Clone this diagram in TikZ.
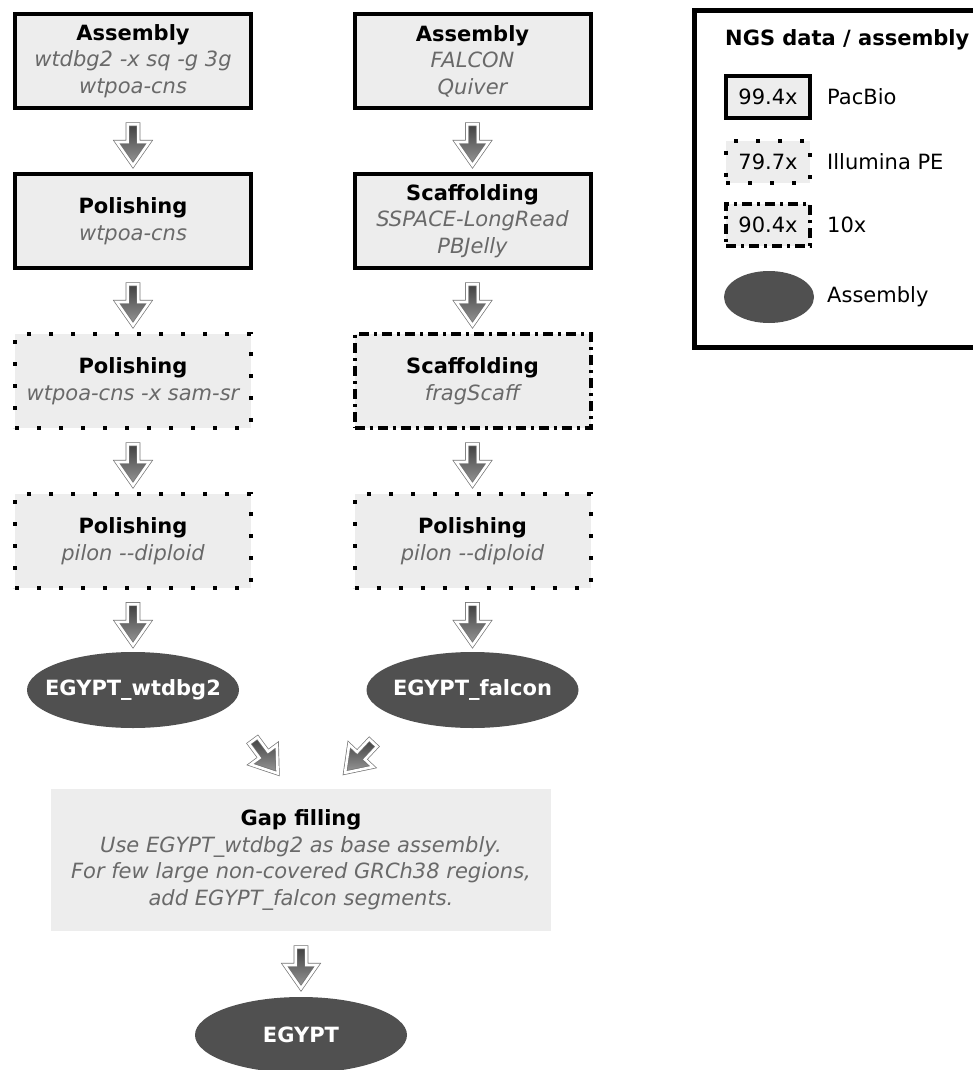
\documentclass[tikz,border=0pt]{standalone}
\usepackage{fontspec}
\setmainfont{DejaVu Sans}
\usepackage{tikz}
\usetikzlibrary{shapes.geometric, shapes.arrows}
\usepackage{xcolor}
\definecolor{boxgray}{RGB}{237, 237, 237}
\definecolor{toolgray}{RGB}{105, 105, 105}
\definecolor{asmgray}{RGB}{80, 80, 80}
\newcommand{\boxfont}{\fontsize{21}{26.5}\selectfont}
\newcommand{\tool}[1]{{\color{toolgray}\itshape #1}}
\newcommand{\asmname}[1]{\makebox[0pt]{#1}}

\begin{document}
\begin{tikzpicture}[x=1pt, y=-1pt,
  every node/.style={font=\boxfont},
  pacbio/.style={draw, line width=4pt, fill=boxgray, align=center, minimum width=236pt, minimum height=94pt},
  illumina/.style={pacbio, dash pattern=on 4pt off 18pt},
  tenx/.style={pacbio, dash pattern=on 10pt off 5pt on 3pt off 5pt},
  asm/.style={ellipse, fill=asmgray, text=white, font=\boxfont\bfseries, minimum width=212pt, minimum height=76pt, inner sep=0pt},
  flow/.style={single arrow, draw=black!55, line width=0.7pt, double=white, double distance=2.6pt, top color=black!75, bottom color=black!40, inner xsep=0pt, inner ysep=5pt, minimum height=41pt, single arrow head extend=11pt, single arrow tip angle=70, sloped, allow upside down},
  legtext/.style={anchor=west, inner sep=0pt}]

  \useasboundingbox (0,0) rectangle (972,1070);

  % wtdbg2 branch
  \node[pacbio] (asmW) at (133,61) {\textbf{Assembly}\\\tool{wtdbg2 -x sq -g 3g}\\\tool{wtpoa-cns}};
  \node[pacbio] (polW1) at (133,221) {\textbf{Polishing}\\\tool{wtpoa-cns}};
  \node[illumina] (polW2) at (133,381) {\textbf{Polishing}\\\tool{wtpoa-cns -x sam-sr}};
  \node[illumina] (polW3) at (133,541) {\textbf{Polishing}\\\tool{pilon -\kern0pt-diploid}};
  \node[asm] (wtdbg) at (133,690) {\asmname{EGYPT\_wtdbg2}};

  % FALCON branch
  \node[pacbio] (asmF) at (472.5,61) {\textbf{Assembly}\\\tool{FALCON}\\\tool{Quiver}};
  \node[pacbio] (scafF1) at (472.5,221) {\textbf{Scaffolding}\\\tool{SSPACE-LongRead}\\\tool{PBJelly}};
  \node[tenx] (scafF2) at (472.5,381) {\textbf{Scaffolding}\\\tool{fragScaff}};
  \node[illumina] (polF) at (472.5,541) {\textbf{Polishing}\\\tool{pilon -\kern0pt-diploid}};
  \node[asm] (falcon) at (472.5,690) {\asmname{EGYPT\_falcon}};

  % Step arrows
  \path (asmW) -- (polW1) node[flow, midway] (aW1) {};
  \path (polW1) -- (polW2) node[flow, midway] (aW2) {};
  \path (polW2) -- (polW3) node[flow, midway] (aW3) {};
  \path (polW3) -- (wtdbg) node[flow, midway] (aW4) {};
  \path (asmF) -- (scafF1) node[flow, midway] (aF1) {};
  \path (scafF1) -- (scafF2) node[flow, midway] (aF2) {};
  \path (scafF2) -- (polF) node[flow, midway] (aF3) {};
  \path (polF) -- (falcon) node[flow, midway] (aF4) {};

  % Gap filling
  \node[fill=boxgray, minimum width=500pt, minimum height=142pt, align=center] (gap) at (301,860)
    {\textbf{Gap filling}\\\tool{Use EGYPT\_wtdbg2 as base assembly.}\\\tool{For few large non-covered GRCh38 regions,}\\\tool{add EGYPT\_falcon segments.}};
  \node[asm] (egypt) at (301,1035) {\asmname{EGYPT}};
  \coordinate (mergeW) at (298,801);
  \coordinate (mergeF) at (326,793);
  \path (wtdbg.-10) -- (mergeW) node[flow, midway] (aM1) {};
  \path (falcon.south west) -- (mergeF) node[flow, midway] (aM2) {};
  \path (gap) -- (egypt) node[flow, midway] (aE) {};

  % Legend
  \draw[line width=5pt] (694.5,10.5) rectangle (980,347.5);
  \node[legtext, font=\boxfont\bfseries] (legTitle) at (725,40) {NGS data / assembly};
  \node[pacbio, minimum width=84pt, minimum height=42pt] (legPac) at (768,97) {99.4x};
  \node[legtext] (legPacTxt) at (827,97) {PacBio};
  \node[illumina, minimum width=84pt, minimum height=42pt] (legIll) at (768,161.5) {79.7x};
  \node[legtext] (legIllTxt) at (827,161.5) {Illumina PE};
  \node[tenx, minimum width=84pt, minimum height=42pt] (legTen) at (768,224.5) {90.4x};
  \node[legtext] (legTenTxt) at (827,224.5) {10x};
  \node[asm, minimum width=90pt, minimum height=52pt] (legAsm) at (769,297) {};
  \node[legtext] (legAsmTxt) at (827,297) {Assembly};

\end{tikzpicture}
\end{document}
